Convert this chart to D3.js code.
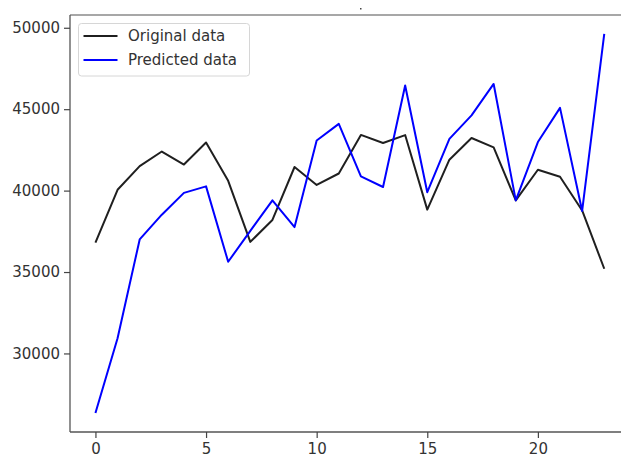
<!DOCTYPE html>
<html>
<head>
<meta charset="utf-8">
<script src="https://cdn.jsdelivr.net/npm/d3@7"></script>
<style>
  html, body { margin: 0; padding: 0; background: #fff; }
  svg { display: block; }
  text { font-family: "DejaVu Sans", sans-serif; }
</style>
</head>
<body>
<div id="chart"></div>
<script>
const indices = d3.range(24);
const originalData = [36800, 40050, 41500, 42400, 41600, 42950, 40600, 36850, 38200, 41450,
  40350, 41050, 43420, 42920, 43410, 38830, 41900, 43230, 42650, 39400,
  41280, 40850, 38780, 35200];
const predictedData = [26340, 30930, 37000, 38520, 39860, 40260, 35630, 37530, 39400, 37760,
  43080, 44100, 40870, 40220, 46450, 39900, 43180, 44620, 46550, 39400,
  42980, 45080, 38750, 49620];
const seriesNames = ["Original data", "Predicted data"];
const seriesColors = ["#000000", "#0000ff"];
const yTicks = [30000, 35000, 40000, 45000, 50000];
const xTicks = [0, 5, 10, 15, 20];

const W = 621, H = 457;
const svg = d3.select("#chart").append("svg").attr("width", W).attr("height", H);

const allVals = originalData.concat(predictedData);
const ymin = d3.min(allVals), ymax = d3.max(allVals);
const ypad = (ymax - ymin) * 0.05;
const xpad = (indices.length - 1) * 0.05;

const mLeft = 70, mTop = 15, mBottom = 432;
const x = d3.scaleLinear().domain([-xpad, indices.length - 1 + xpad]).range([mLeft, 629.7]);
const y = d3.scaleLinear().domain([ymin - ypad, ymax + ypad]).range([mBottom, mTop]);

// spines
svg.append("line").attr("x1", mLeft).attr("x2", W).attr("y1", mTop).attr("y2", mTop)
  .attr("stroke", "#8a8a8a").attr("stroke-width", 1.6);
svg.append("line").attr("x1", mLeft).attr("x2", mLeft).attr("y1", mTop).attr("y2", mBottom)
  .attr("stroke", "#555").attr("stroke-width", 1.3);
svg.append("line").attr("x1", mLeft).attr("x2", W).attr("y1", mBottom).attr("y2", mBottom)
  .attr("stroke", "#555").attr("stroke-width", 1.3);

// axes
const yAxis = d3.axisLeft(y).tickValues(yTicks).tickSize(6).tickPadding(4).tickFormat(d3.format("d"));
const gy = svg.append("g").attr("transform", `translate(${mLeft},0)`).call(yAxis);
gy.select(".domain").remove();
gy.selectAll(".tick line").attr("stroke", "#444").attr("stroke-width", 1.2);
gy.selectAll(".tick text").attr("fill", "#333").style("font-size", "15px")
  .style("font-family", "DejaVu Sans, sans-serif");

const xAxis = d3.axisBottom(x).tickValues(xTicks).tickSize(6).tickPadding(5).tickFormat(d3.format("d"));
const gx = svg.append("g").attr("transform", `translate(0,${mBottom})`).call(xAxis);
gx.select(".domain").remove();
gx.selectAll(".tick line").attr("stroke", "#444").attr("stroke-width", 1.2);
gx.selectAll(".tick text").attr("fill", "#333").style("font-size", "15px")
  .style("font-family", "DejaVu Sans, sans-serif");

// lines
const line = d3.line().x((d, i) => x(indices[i])).y(d => y(d));
[originalData, predictedData].forEach((data, k) => {
  svg.append("path").datum(data).attr("d", line)
    .attr("fill", "none").attr("stroke", seriesColors[k])
    .attr("stroke-width", 2).attr("stroke-linejoin", "round")
    .attr("stroke-opacity", k === 0 ? 0.88 : 1);
});

// small mark at top
svg.append("rect").attr("x", 360).attr("y", 8).attr("width", 1.5).attr("height", 1.5).attr("fill", "#444");

// legend
const lg = svg.append("g");
lg.append("rect").attr("x", 78.5).attr("y", 23.5).attr("width", 171).attr("height", 52.5)
  .attr("rx", 3).attr("fill", "#fff").attr("fill-opacity", 0.85)
  .attr("stroke", "#d6d6d6").attr("stroke-width", 1);
seriesNames.forEach((name, k) => {
  const yy = 36 + k * 24;
  lg.append("line").attr("x1", 83.5).attr("x2", 117.5).attr("y1", yy).attr("y2", yy)
    .attr("stroke", seriesColors[k]).attr("stroke-width", 2)
    .attr("stroke-opacity", k === 0 ? 0.88 : 1);
  lg.append("text").attr("x", 128).attr("y", yy).attr("dy", "0.36em")
    .attr("fill", "#333").style("font-size", "15px").text(name);
});
</script>
</body>
</html>
